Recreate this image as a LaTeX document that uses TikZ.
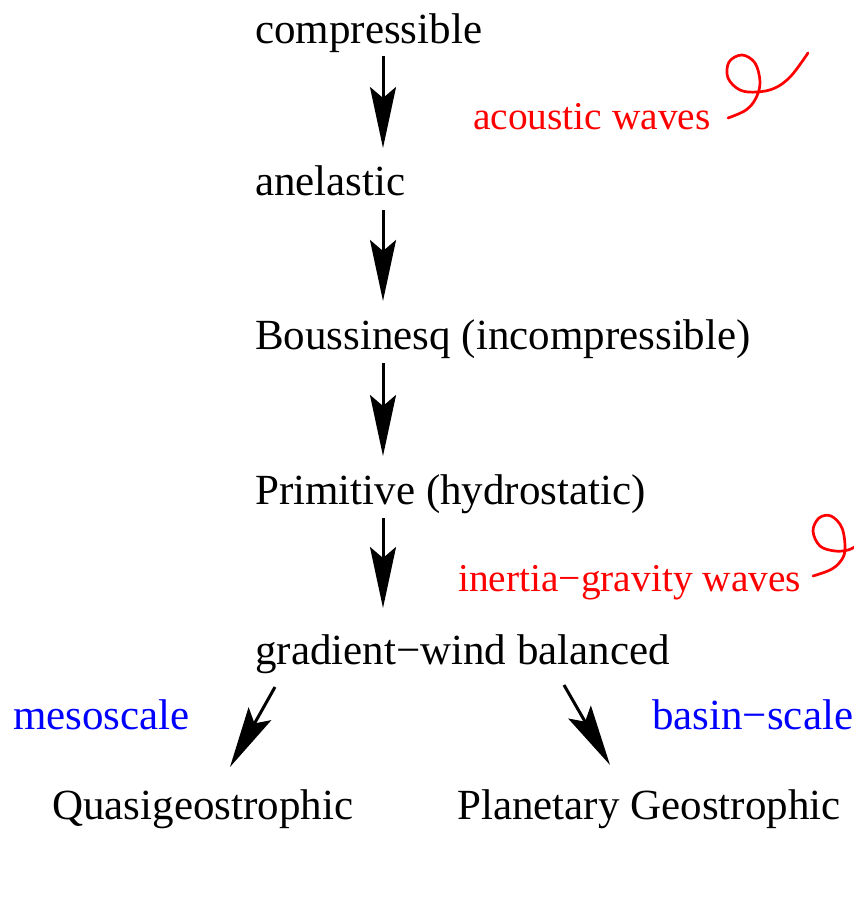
\documentclass[tikz,border=0pt]{standalone}
\usepackage{fontspec}
\setmainfont{Liberation Serif}
\usetikzlibrary{arrows.meta}
\begin{document}
\begin{tikzpicture}[x=1pt,y=-1pt,
  lbl/.style={anchor=base west,inner sep=0pt,font=\fontsize{43}{50}\selectfont},
  redlbl/.style={anchor=base west,inner sep=0pt,text=red,font=\fontsize{39.4}{46}\selectfont},
  bluelbl/.style={anchor=base west,inner sep=0pt,text=blue,font=\fontsize{43}{50}\selectfont},
  arr/.style={line width=3pt,-{Stealth[length=61pt,width=26pt,inset=11pt]}},
  curl/.style={red,line width=2.7pt,line cap=round}]
\useasboundingbox (0,0) rectangle (854,922);
\node[lbl] (comp) at (255,43) {compressible};
\node[lbl] (anel) at (255,195) {anelastic};
\node[lbl] (bous) at (255,349) {Boussinesq (incompressible)};
\node[lbl] (prim) at (255,504) {Primitive (hydrostatic)};
\node[lbl] (grad) at (255,664) {gradient−wind balanced};
\node[lbl] (qg) at (52,819) {Quasigeostrophic};
\node[lbl] (pg) at (457,819) {Planetary Geostrophic};
\node[redlbl] (acou) at (473,129) {acoustic waves};
\node[redlbl] (igw) at (458,591) {inertia−gravity waves};
\node[bluelbl] (meso) at (13,729) {mesoscale};
\node[bluelbl] (basin) at (652,729) {basin−scale};
\coordinate (a1s) at (383,56);  \coordinate (a1e) at (383,148);
\coordinate (a2s) at (383,210); \coordinate (a2e) at (383,301);
\coordinate (a3s) at (383,363); \coordinate (a3e) at (383,456);
\coordinate (a4s) at (383,518); \coordinate (a4e) at (383,608);
\coordinate (a5s) at (275,687); \coordinate (a5e) at (230,767);
\coordinate (a6s) at (564,685); \coordinate (a6e) at (610,765);
\draw[arr] (a1s) -- (a1e);
\draw[arr] (a2s) -- (a2e);
\draw[arr] (a3s) -- (a3e);
\draw[arr] (a4s) -- (a4e);
\draw[arr] (a5s) -- (a5e);
\draw[arr] (a6s) -- (a6e);
\draw[curl] plot[smooth,tension=0.6] coordinates {(728,118) (746,110) (756,98) (760,82) (755,63) (742,55) (729,62) (728,78) (740,90) (757,92) (775,88) (791,76) (808,53)};
\draw[curl] plot[smooth,tension=0.6] coordinates {(813,576) (830,570) (840,562) (845,550) (842,528) (831,516) (819,518) (813,531) (820,546) (835,551) (848,550) (856,546)};
\end{tikzpicture}
\end{document}
